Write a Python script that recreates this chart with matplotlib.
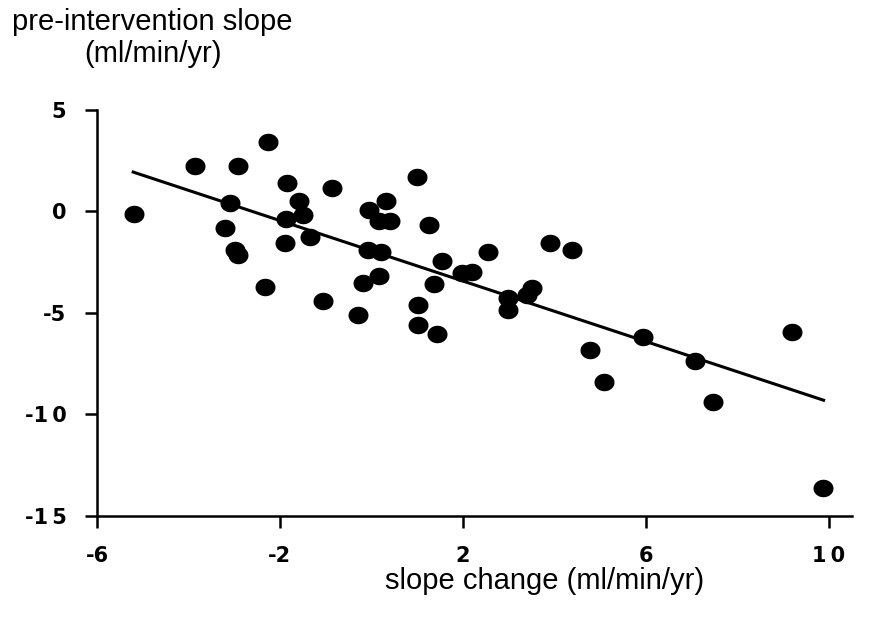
import numpy as np
import matplotlib
matplotlib.use("Agg")
import matplotlib.pyplot as plt
from matplotlib.path import Path

plt.rcParams['font.family'] = ['Liberation Sans', 'DejaVu Sans']

# ---- data ----
slope_change = [-5.18, -3.86, -2.92, -2.25, -3.09, -1.84, -1.58, -1.50, -1.87, -3.20,
                -2.98, -2.91, -1.89, -1.34, -0.87, -2.33, -1.05, -0.29, -0.05, 0.32,
                0.17, 0.41, -0.07, 0.20, 0.17, -0.18, 0.99, 1.27, 1.01, 1.01,
                1.44, 1.54, 1.36, 1.98, 2.21, 2.56, 2.99, 2.98, 3.51, 3.40,
                3.91, 4.38, 4.77, 5.09, 5.95, 7.08, 7.48, 9.19, 9.88]
pre_slope = [-0.13, 2.24, 2.24, 3.41, 0.43, 1.41, 0.53, -0.20, -0.39, -0.80,
             -1.90, -2.15, -1.57, -1.25, 1.14, -3.71, -4.42, -5.11, 0.07, 0.51,
             -0.47, -0.47, -1.90, -1.99, -3.18, -3.51, 1.68, -0.67, -4.61, -5.60,
             -6.06, -2.42, -3.59, -3.05, -3.01, -1.99, -4.28, -4.88, -3.79, -4.10,
             -1.57, -1.90, -6.83, -8.42, -6.21, -7.37, -9.38, -5.93, -13.65]

fit_range = [-5.24, 9.92]
fit_intercept = -1.94
fit_slope = -0.745

x_ticks = [-6, -2, 2, 6, 10]
x_tick_labels = ["-6", "-2", "2", "6", "1\u20090"]
y_ticks = [5, 0, -5, -10, -15]
y_tick_labels = ["5", "0", "-5", "-1\u20090", "-1\u20095"]

y_title = "pre-intervention slope\n(ml/min/yr)"
x_title = "slope change (ml/min/yr)"

# ---- figure ----
W, H = 870, 624
fig = plt.figure(figsize=(W / 100, H / 100), dpi=100)
ax = fig.add_axes([97 / W, 1 - 515.7 / H, (852 - 97) / W, (515.7 - 110) / H])
ax.set_xlim(-6, 10.51)
ax.set_ylim(-15, 5)

# ellipse marker
t = np.linspace(0, 2 * np.pi, 73)
ell = Path(np.column_stack([0.5 * np.cos(t), 0.4375 * np.sin(t)]), closed=True)

fx = np.array(fit_range)
ax.plot(fx, fit_intercept + fit_slope * fx, color='black', lw=2.2, solid_capstyle='butt', zorder=2)
ax.plot(slope_change, pre_slope, linestyle='none', marker=ell, markersize=14.4,
        color='black', markeredgewidth=0, zorder=3)

for s in ['top', 'right']:
    ax.spines[s].set_visible(False)
for s in ['left', 'bottom']:
    ax.spines[s].set_linewidth(1.8)

tick_font = dict(fontsize=15, fontweight='bold', family=['DejaVu Sans'])
ax.tick_params(axis='both', direction='out', length=8.5, width=1.8, colors='black',
               labelsize=15)
ax.tick_params(axis='y', pad=13.5)
ax.tick_params(axis='x', pad=13.0)
ax.set_xticks(x_ticks)
ax.set_xticklabels(x_tick_labels, **tick_font)
ax.set_yticks(y_ticks)
ax.set_yticklabels(y_tick_labels, **tick_font)

fig.text(152.5 / W, 1 - 8 / H, y_title, ha='center', va='top', fontsize=21,
         linespacing=1.2, color='black')
fig.text(545 / W, 1 - 589 / H, x_title, ha='center', va='baseline', fontsize=21,
         color='black')

fig.savefig("out.png", dpi=100, facecolor='white')
